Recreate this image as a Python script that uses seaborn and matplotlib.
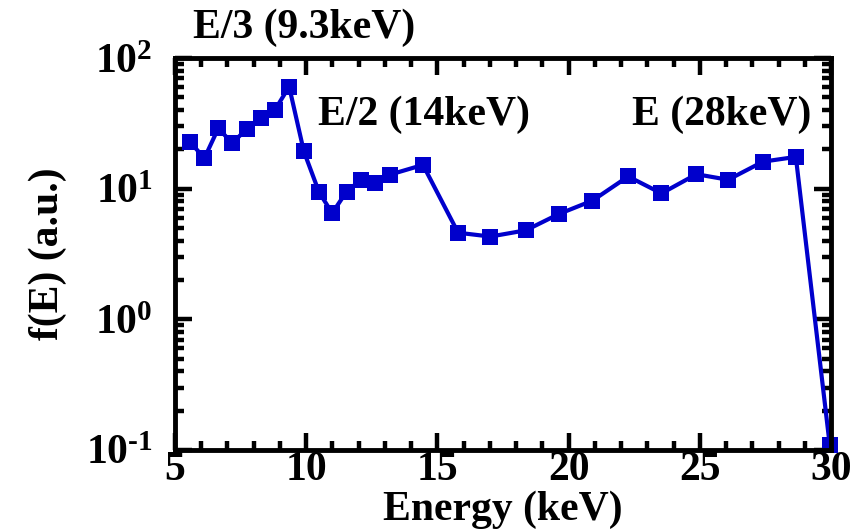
import matplotlib
matplotlib.use("Agg")
import matplotlib.pyplot as plt
from matplotlib.ticker import FixedLocator, MultipleLocator, LogLocator, NullFormatter, FixedFormatter
import seaborn as sns
import pandas as pd
import numpy as np

# Spectrum f(E) read at each sampled energy
energy_kev = [5.57, 6.12, 6.65, 7.18, 7.73, 8.28, 8.81, 9.35, 9.91, 10.49,
              10.99, 11.54, 12.09, 12.62, 13.19, 14.45, 15.79, 17.02, 18.37,
              19.63, 20.91, 22.27, 23.54, 24.87, 26.08, 27.41, 28.66, 29.95]
f_values = [22.8, 17.1, 29.0, 22.3, 28.6, 35.0, 40.1, 60.4, 19.3, 9.4,
            6.5, 9.5, 11.7, 11.1, 12.8, 15.2, 4.6, 4.3, 4.8,
            6.4, 8.1, 12.4, 9.2, 12.9, 11.7, 16.1, 17.5, 0.11]

x_ticks = [5, 10, 15, 20, 25, 30]
x_tick_labels = ["5", "10", "15", "20", "25", "30"]
y_ticks = [0.1, 1, 10, 100]
y_tick_labels = [r"$10^{\text{-1}}$", r"$10^{0}$", r"$10^{1}$", r"$10^{2}$"]
annotations = ["E/3 (9.3keV)", "E/2 (14keV)", "E (28keV)"]

sns.set_style("ticks")
plt.rcParams["font.family"] = ["Liberation Serif", "DejaVu Serif"]
plt.rcParams["font.weight"] = "bold"
plt.rcParams["mathtext.fontset"] = "custom"
plt.rcParams["mathtext.rm"] = "Liberation Serif:bold"
plt.rcParams["mathtext.it"] = "Liberation Serif:bold"
plt.rcParams["mathtext.bf"] = "Liberation Serif:bold"
plt.rcParams["mathtext.default"] = "rm"
for key in ["text.color", "axes.labelcolor", "xtick.color", "ytick.color", "axes.edgecolor"]:
    plt.rcParams[key] = "black"

df = pd.DataFrame({"Energy": energy_kev, "f": f_values})

fig = plt.figure(figsize=(8.56, 5.30), dpi=100)
ax = fig.add_axes([175 / 856, 1 - 450 / 530, (831 - 175) / 856, (450 - 58) / 530])

blue = "#0000CC"
sns.lineplot(data=df, x="Energy", y="f", ax=ax, color=blue, linewidth=3.0,
             marker="s", markersize=11, markeredgewidth=0, markerfacecolor=blue,
             clip_on=False, legend=False)

ax.set_yscale("log")
ax.set_xlim(5, 30)
ax.set_ylim(0.1, 100)

ax.xaxis.set_major_locator(FixedLocator(x_ticks))
ax.xaxis.set_major_formatter(FixedFormatter(x_tick_labels))
ax.xaxis.set_minor_locator(MultipleLocator(1))
ax.yaxis.set_major_locator(FixedLocator(y_ticks))
ax.yaxis.set_major_formatter(FixedFormatter(y_tick_labels))
ax.yaxis.set_minor_locator(LogLocator(base=10, subs=np.arange(2, 10)))
ax.yaxis.set_minor_formatter(NullFormatter())

ax.tick_params(which="both", direction="in", top=True, right=True, colors="black")
ax.tick_params(which="major", length=12, width=3.2)
ax.tick_params(which="minor", length=6.5, width=3.2)
ax.tick_params(axis="x", which="major", labelsize=30, pad=1)
ax.tick_params(axis="y", which="major", labelsize=30, pad=16)

for lab in ax.get_xticklabels() + ax.get_yticklabels():
    lab.set_fontweight("bold")

for side in ["left", "right", "top", "bottom"]:
    ax.spines[side].set_linewidth(3.5)
    ax.spines[side].set_color("black")

ax.set_xlabel("Energy (keV)", fontsize=30, fontweight="bold", labelpad=1)
ax.set_ylabel("f(E) (a.u.)", fontsize=30, fontweight="bold", labelpad=14)

fig.text(193 / 856, 1 - 38 / 530, annotations[0], fontsize=30, fontweight="bold",
         ha="left", va="baseline")
fig.text(318 / 856, 1 - 125 / 530, annotations[1], fontsize=30, fontweight="bold",
         ha="left", va="baseline")
fig.text(632 / 856, 1 - 125 / 530, annotations[2], fontsize=30, fontweight="bold",
         ha="left", va="baseline")

fig.savefig("out.png", dpi=100, facecolor="white")
